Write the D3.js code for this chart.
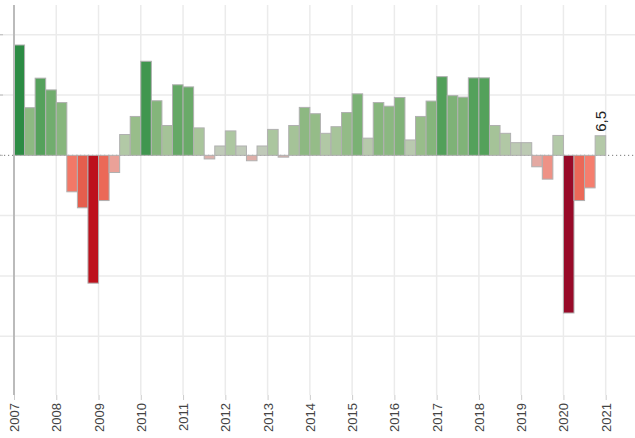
<!DOCTYPE html>
<html>
<head>
<meta charset="utf-8">
<script src="https://cdn.jsdelivr.net/npm/d3@7.9.0/dist/d3.min.js"></script>
<style>
  body { margin: 0; background: #fff; }
  svg { display: block; font-family: "Liberation Sans", Arial, sans-serif; }
</style>
</head>
<body>
<div id="chart"></div>
<script>
// quarterly values, 2007 Q1 .. 2020 Q4
const years = d3.range(2007, 2021);
const quarters = [1, 2, 3, 4];
const values = [
  36.6, 15.8, 25.6, 21.7,
  17.5, -12.1, -17.4, -42.4,
  -15.0, -5.7, 6.9, 12.9,
  31.2, 18.1, 9.9, 23.4,
  22.7, 9.1, -1.2, 3.1,
  8.1, 3.1, -1.8, 3.1,
  8.6, -0.6, 9.9, 15.9,
  13.8, 7.3, 9.5, 14.2,
  20.4, 5.7, 17.5, 16.3,
  19.2, 5.1, 12.9, 18.0,
  26.1, 19.8, 19.3, 25.7,
  25.7, 9.9, 7.3, 4.2,
  4.2, -3.8, -7.9, 6.6,
  -52.3, -15.0, -10.8, 6.5
];
const yearTicks = d3.range(2007, 2022);
const yTicks = [-60, -40, -20, 20, 40];
const lastLabel = "6,5";

const data = [];
years.forEach((yr, i) => quarters.forEach((q, j) => {
  data.push({ t: yr + (q - 1) / 4, value: values[i * 4 + j] });
}));

const width = 635, height = 438;
const margin = { left: 14, top: 5, bottom: 396 };

const svg = d3.select('#chart').append('svg')
  .attr('width', width)
  .attr('height', height);

const x = d3.scaleLinear().domain([2007, 2021]).range([14, 605.7]);
const y = d3.scaleLinear().domain([-80, 50]).range([396.5, 4.6]);
const bw = x(2007.25) - x(2007);

const color = d3.scaleLinear()
  .domain([-52, -42, -17, -11, -5, -0.5, 0, 3, 7, 13, 20, 26, 37])
  .range(['#990a28', '#bf111b', '#e65f4e', '#f57d6c', '#e8a69e', '#dab3ae',
          '#c4cbbd', '#c0cab9', '#b2c9a6', '#98bd8a', '#7db276', '#52a05a', '#2b8a43']);

// horizontal grid
svg.append('g').selectAll('line').data(yTicks).join('line')
  .attr('x1', 0).attr('x2', width)
  .attr('y1', d => y(d)).attr('y2', d => y(d))
  .attr('stroke', '#ebebeb').attr('stroke-width', 1.5);

// vertical grid
svg.append('g').selectAll('line').data(yearTicks).join('line')
  .attr('x1', d => x(d)).attr('x2', d => x(d))
  .attr('y1', margin.top).attr('y2', 395)
  .attr('stroke', '#ebebeb').attr('stroke-width', 1.5);

// zero line (dotted)
svg.append('line')
  .attr('x1', 0).attr('x2', width)
  .attr('y1', y(0)).attr('y2', y(0))
  .attr('stroke', '#777').attr('stroke-dasharray', '1.2,2.8');

// bars
svg.append('g').selectAll('rect').data(data).join('rect')
  .attr('x', d => x(d.t))
  .attr('width', bw)
  .attr('y', d => y(Math.max(0, d.value)))
  .attr('height', d => Math.abs(y(d.value) - y(0)))
  .attr('fill', d => color(d.value))
  .attr('stroke', '#b0b0b0')
  .attr('stroke-width', 1);

// y axis line + left ticks
svg.append('line')
  .attr('x1', margin.left).attr('x2', margin.left)
  .attr('y1', margin.top).attr('y2', 395)
  .attr('stroke', '#bbb').attr('stroke-width', 2);

svg.append('g').selectAll('line').data([0, 20, 40]).join('line')
  .attr('x1', 0).attr('x2', 3)
  .attr('y1', d => y(d)).attr('y2', d => y(d))
  .attr('stroke', '#bbb');

// x axis
const xAxis = d3.axisBottom(x)
  .tickValues(yearTicks)
  .tickFormat(d3.format('d'))
  .tickSize(5)
  .tickPadding(4);

const gx = svg.append('g')
  .attr('transform', 'translate(0,395)')
  .call(xAxis);
gx.select('.domain').remove();
gx.selectAll('.tick line').attr('stroke', '#ccc');
gx.selectAll('.tick text')
  .attr('transform', 'rotate(-90)')
  .attr('text-anchor', 'end')
  .attr('x', -8)
  .attr('y', 0)
  .attr('dy', '0.35em')
  .attr('fill', '#444')
  .style('font-size', '13px')
  .style('font-family', '"Liberation Sans", Arial, sans-serif');

// label on last bar
const last = data[data.length - 1];
svg.append('text')
  .attr('transform', `translate(${x(last.t) + bw / 2},${y(last.value) - 4}) rotate(-90)`)
  .attr('dy', '0.35em')
  .attr('fill', '#222')
  .style('font-size', '15px')
  .text(lastLabel);
</script>
</body>
</html>
